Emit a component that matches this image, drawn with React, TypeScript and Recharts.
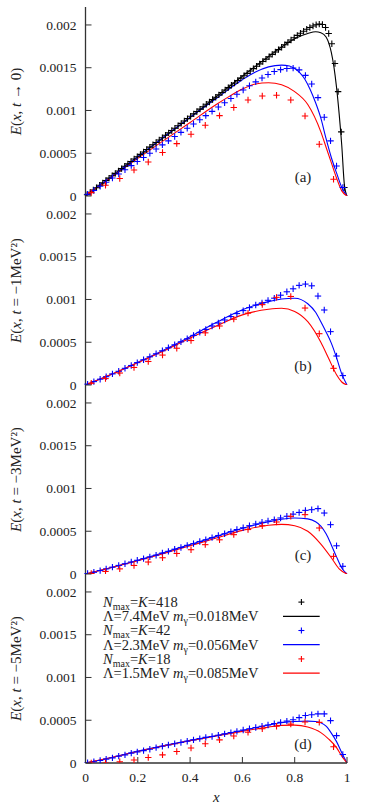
import React from "react"
import { ComposedChart, Line, Scatter, XAxis, YAxis, Legend } from "recharts"

// all E values below are read in units of 10^-3
const UNIT = 1e-3

const X_TICKS = [0, 0.2, 0.4, 0.6, 0.8, 1]
const Y_TICKS = [0, 0.0005, 0.001, 0.0015, 0.002]
const Y_MAX = 0.00221

// x positions of the discrete points
const BLACK_X = [
  0.006, 0.018, 0.03, 0.042, 0.054, 0.066, 0.078, 0.09, 0.102, 0.114, 0.126, 0.138, 0.15, 0.162, 0.174, 0.186,
  0.198, 0.21, 0.222, 0.234, 0.246, 0.258, 0.27, 0.282, 0.294, 0.306, 0.318, 0.33, 0.342, 0.354, 0.366, 0.378,
  0.39, 0.402, 0.414, 0.426, 0.438, 0.45, 0.462, 0.474, 0.486, 0.498, 0.51, 0.522, 0.534, 0.546, 0.558, 0.57,
  0.582, 0.594, 0.606, 0.618, 0.63, 0.642, 0.654, 0.666, 0.678, 0.69, 0.702, 0.714, 0.726, 0.738, 0.75, 0.762,
  0.774, 0.786, 0.798, 0.81, 0.822, 0.834, 0.846, 0.858, 0.87, 0.882, 0.894, 0.906, 0.918, 0.93, 0.942, 0.954,
  0.966, 0.978, 0.99,
]
const BLUE_X = [
  0.008, 0.032, 0.056, 0.079, 0.103, 0.127, 0.151, 0.175, 0.198, 0.222, 0.246, 0.27, 0.294, 0.317, 0.341, 0.365,
  0.389, 0.413, 0.437, 0.46, 0.484, 0.508, 0.532, 0.556, 0.579, 0.603, 0.627, 0.651, 0.675, 0.698, 0.722, 0.746,
  0.77, 0.794, 0.817, 0.841, 0.865, 0.889, 0.913, 0.937, 0.96, 0.984,
]
const RED_X = [
  0.022, 0.0765, 0.131, 0.1855, 0.24, 0.2945, 0.349, 0.4035, 0.458, 0.5125, 0.567, 0.6215, 0.676, 0.7305, 0.785,
  0.8395, 0.894, 0.9485,
]

// panel (a): t -> 0
const A_BLACK_PTS = [
  0.014, 0.042, 0.07, 0.097, 0.125, 0.153, 0.181, 0.209, 0.237, 0.264, 0.292, 0.32, 0.348, 0.376, 0.404, 0.432,
  0.459, 0.487, 0.515, 0.543, 0.571, 0.599, 0.626, 0.654, 0.682, 0.71, 0.738, 0.766, 0.793, 0.821, 0.849, 0.877,
  0.905, 0.933, 0.96, 0.988, 1.016, 1.044, 1.072, 1.1, 1.128, 1.155, 1.183, 1.211, 1.239, 1.267, 1.295, 1.322,
  1.35, 1.378, 1.406, 1.434, 1.462, 1.489, 1.517, 1.545, 1.573, 1.601, 1.629, 1.656, 1.684, 1.712, 1.74, 1.768,
  1.796, 1.824, 1.851, 1.878, 1.903, 1.927, 1.95, 1.97, 1.988, 2.002, 2.01, 2.005, 1.97, 1.9, 1.78, 1.55,
  1.22, 0.75, 0.1,
]
const A_BLUE_PTS = [
  0.02, 0.065, 0.114, 0.16, 0.21, 0.258, 0.307, 0.355, 0.403, 0.451, 0.5, 0.549, 0.598, 0.645, 0.695, 0.744,
  0.793, 0.842, 0.891, 0.94, 0.99, 1.04, 1.09, 1.14, 1.19, 1.24, 1.29, 1.335, 1.38, 1.42, 1.455, 1.478,
  1.49, 1.495, 1.475, 1.41, 1.31, 1.15, 0.92, 0.645, 0.35, 0.1,
]
const A_RED_PTS = [
  0.04, 0.125, 0.204, 0.304, 0.398, 0.508, 0.613, 0.722, 0.827, 0.94, 1.034, 1.123, 1.17, 1.178, 1.123, 0.936,
  0.605, 0.195,
]
const A_BLACK_LINE_X = [0, 0.1, 0.2, 0.3, 0.4, 0.5, 0.6, 0.7, 0.8, 0.85, 0.88, 0.9, 0.92, 0.94, 0.95, 0.96, 0.97, 0.98, 0.99, 1]
const A_BLACK_LINE = [0, 0.23, 0.46, 0.69, 0.92, 1.16, 1.4, 1.63, 1.84, 1.9, 1.92, 1.91, 1.86, 1.68, 1.51, 1.27, 0.96, 0.59, 0.13, 0]
const A_BLUE_LINE_X = [0, 0.1, 0.2, 0.3, 0.4, 0.5, 0.6, 0.65, 0.7, 0.75, 0.78, 0.8, 0.82, 0.84, 0.86, 0.88, 0.9, 0.92, 0.94, 0.96, 0.98, 1]
const A_BLUE_LINE = [0, 0.23, 0.46, 0.69, 0.92, 1.14, 1.36, 1.45, 1.51, 1.53, 1.52, 1.49, 1.44, 1.36, 1.24, 1.09, 0.91, 0.67, 0.45, 0.27, 0.1, 0]
const A_RED_LINE_X = [0, 0.1, 0.2, 0.3, 0.4, 0.5, 0.55, 0.6, 0.65, 0.7, 0.75, 0.8, 0.85, 0.9, 0.92, 0.94, 0.96, 0.98, 1]
const A_RED_LINE = [0, 0.22, 0.44, 0.65, 0.86, 1.07, 1.165, 1.25, 1.31, 1.325, 1.3, 1.22, 1.07, 0.75, 0.57, 0.39, 0.21, 0.06, 0]

// panel (b): t = -1 MeV^2
const B_BLUE_PTS = [
  0.01, 0.04, 0.068, 0.097, 0.13, 0.16, 0.195, 0.228, 0.262, 0.295, 0.33, 0.365, 0.4, 0.435, 0.47, 0.505,
  0.54, 0.58, 0.615, 0.65, 0.69, 0.725, 0.76, 0.8, 0.835, 0.87, 0.905, 0.935, 0.96, 0.99, 1.015, 1.05,
  1.09, 1.125, 1.165, 1.18, 1.16, 1.04, 0.877, 0.624, 0.339, 0.11,
]
const B_RED_PTS = [
  0.02, 0.075, 0.14, 0.205, 0.275, 0.35, 0.43, 0.52, 0.61, 0.69, 0.77, 0.84, 0.94, 1.025, 1.035, 0.9, 0.6, 0.195,
]
const B_BLUE_LINE_X = [0, 0.1, 0.2, 0.3, 0.4, 0.5, 0.6, 0.7, 0.75, 0.8, 0.85, 0.88, 0.9, 0.92, 0.94, 0.96, 0.98, 1]
const B_BLUE_LINE = [0, 0.125, 0.265, 0.41, 0.565, 0.73, 0.88, 0.975, 1.005, 1.015, 0.95, 0.85, 0.74, 0.62, 0.49, 0.32, 0.13, 0]
const B_RED_LINE_X = [0, 0.1, 0.2, 0.3, 0.4, 0.5, 0.6, 0.7, 0.75, 0.8, 0.85, 0.9, 0.93, 0.96, 0.98, 1]
const B_RED_LINE = [0, 0.125, 0.26, 0.4, 0.55, 0.69, 0.82, 0.885, 0.897, 0.86, 0.74, 0.5, 0.31, 0.12, 0.035, 0]

// panel (c): t = -3 MeV^2
const C_BLUE_PTS = [
  0.005, 0.02, 0.04, 0.06, 0.08, 0.1, 0.12, 0.14, 0.16, 0.18, 0.2, 0.22, 0.245, 0.265, 0.29, 0.31,
  0.335, 0.355, 0.38, 0.4, 0.425, 0.45, 0.47, 0.495, 0.52, 0.54, 0.565, 0.585, 0.605, 0.62, 0.635, 0.655,
  0.675, 0.7, 0.72, 0.744, 0.752, 0.764, 0.713, 0.577, 0.33, 0.09,
]
const C_RED_PTS = [
  0.005, 0.03, 0.06, 0.1, 0.14, 0.19, 0.24, 0.284, 0.343, 0.4, 0.46, 0.52, 0.565, 0.608, 0.674, 0.694, 0.538, 0.206,
]
const C_BLUE_LINE_X = [0, 0.1, 0.2, 0.3, 0.4, 0.5, 0.6, 0.7, 0.75, 0.8, 0.85, 0.88, 0.9, 0.92, 0.94, 0.96, 0.98, 1]
const C_BLUE_LINE = [0, 0.075, 0.16, 0.25, 0.345, 0.44, 0.535, 0.61, 0.64, 0.655, 0.645, 0.61, 0.56, 0.47, 0.34, 0.2, 0.07, 0]
const C_RED_LINE_X = [0, 0.1, 0.2, 0.3, 0.4, 0.5, 0.6, 0.7, 0.75, 0.8, 0.85, 0.9, 0.94, 0.97, 1]
const C_RED_LINE = [0, 0.075, 0.155, 0.24, 0.33, 0.42, 0.51, 0.57, 0.58, 0.565, 0.5, 0.35, 0.19, 0.06, 0]

// panel (d): t = -5 MeV^2
const D_BLUE_PTS = [
  0.003, 0.015, 0.03, 0.045, 0.06, 0.08, 0.095, 0.115, 0.13, 0.145, 0.16, 0.18, 0.195, 0.21, 0.225, 0.24,
  0.255, 0.27, 0.285, 0.3, 0.31, 0.325, 0.34, 0.355, 0.37, 0.385, 0.4, 0.415, 0.43, 0.445, 0.46, 0.475,
  0.49, 0.505, 0.53, 0.555, 0.565, 0.575, 0.575, 0.495, 0.32, 0.1,
]
const D_RED_PTS = [
  0, 0, 0.015, 0.035, 0.065, 0.095, 0.135, 0.175, 0.225, 0.27, 0.315, 0.36, 0.4, 0.43, 0.455, 0.48, 0.475, 0.19,
]
const D_BLUE_LINE_X = [0, 0.1, 0.2, 0.3, 0.4, 0.5, 0.6, 0.7, 0.75, 0.8, 0.85, 0.88, 0.9, 0.92, 0.94, 0.96, 0.98, 1]
const D_BLUE_LINE = [0, 0.065, 0.14, 0.205, 0.265, 0.32, 0.38, 0.445, 0.47, 0.485, 0.49, 0.485, 0.47, 0.43, 0.35, 0.25, 0.12, 0]
const D_RED_LINE_X = [0, 0.1, 0.2, 0.3, 0.4, 0.5, 0.6, 0.7, 0.75, 0.8, 0.85, 0.9, 0.93, 0.96, 0.98, 1]
const D_RED_LINE = [0, 0.065, 0.135, 0.2, 0.26, 0.315, 0.37, 0.42, 0.44, 0.443, 0.42, 0.355, 0.28, 0.18, 0.08, 0]

// legend
const LEGEND_N = ["418", "42", "18"]
const LEGEND_LAMBDA = ["7.4", "2.3", "1.5"]
const LEGEND_MGAMMA = ["0.018", "0.056", "0.085"]

const BLACK = "#000000"
const BLUE = "#0000ff"
const RED = "#ff0000"
const COLORS = [BLACK, BLUE, RED]
const INK = "#222"
const FRAME = "#333"
const FONT = "'Liberation Serif', 'DejaVu Serif', serif"

// layout
const W = 373
const PLOT_LEFT = 85.5
const PLOT_RIGHT = 347
const H = 189
const PAD = 12
const TOPS = [7, 196, 385, 574]
const XAXIS_H = 40
const TICK = 6
const ROW_H = 14.2

const pairs = (xs: number[], ys: number[]) => xs.map((x, i) => ({ x, y: ys[i] * UNIT }))

type Series = { kind: "pts" | "line"; color: string; data: { x: number; y: number }[] }
type Panel = { tag: string; tail: string; series: Series[] }

const PANELS: Panel[] = [
  {
    tag: "(a)",
    tail: " → 0",
    series: [
      { kind: "pts", color: BLACK, data: pairs(BLACK_X, A_BLACK_PTS) },
      { kind: "line", color: BLACK, data: pairs(A_BLACK_LINE_X, A_BLACK_LINE) },
      { kind: "pts", color: BLUE, data: pairs(BLUE_X, A_BLUE_PTS) },
      { kind: "line", color: BLUE, data: pairs(A_BLUE_LINE_X, A_BLUE_LINE) },
      { kind: "pts", color: RED, data: pairs(RED_X, A_RED_PTS) },
      { kind: "line", color: RED, data: pairs(A_RED_LINE_X, A_RED_LINE) },
    ],
  },
  {
    tag: "(b)",
    tail: " = −1MeV²",
    series: [
      { kind: "pts", color: BLUE, data: pairs(BLUE_X, B_BLUE_PTS) },
      { kind: "line", color: BLUE, data: pairs(B_BLUE_LINE_X, B_BLUE_LINE) },
      { kind: "pts", color: RED, data: pairs(RED_X, B_RED_PTS) },
      { kind: "line", color: RED, data: pairs(B_RED_LINE_X, B_RED_LINE) },
    ],
  },
  {
    tag: "(c)",
    tail: " = −3MeV²",
    series: [
      { kind: "pts", color: BLUE, data: pairs(BLUE_X, C_BLUE_PTS) },
      { kind: "line", color: BLUE, data: pairs(C_BLUE_LINE_X, C_BLUE_LINE) },
      { kind: "pts", color: RED, data: pairs(RED_X, C_RED_PTS) },
      { kind: "line", color: RED, data: pairs(C_RED_LINE_X, C_RED_LINE) },
    ],
  },
  {
    tag: "(d)",
    tail: " = −5MeV²",
    series: [
      { kind: "pts", color: BLUE, data: pairs(BLUE_X, D_BLUE_PTS) },
      { kind: "line", color: BLUE, data: pairs(D_BLUE_LINE_X, D_BLUE_LINE) },
      { kind: "pts", color: RED, data: pairs(RED_X, D_RED_PTS) },
      { kind: "line", color: RED, data: pairs(D_RED_LINE_X, D_RED_LINE) },
    ],
  },
]

const plusShape = (color: string, s = 3.2) => (props: any) => {
  const { cx, cy } = props
  if (cx == null || cy == null) return <g />
  return (
    <g stroke={color} strokeWidth={1.1}>
      <line x1={cx - s} x2={cx + s} y1={cy} y2={cy} />
      <line x1={cx} x2={cx} y1={cy - s} y2={cy + s} />
    </g>
  )
}

const LeftTick = (p: any) => (
  <g>
    <line x1={p.x} x2={p.x + TICK} y1={p.y} y2={p.y} stroke={FRAME} strokeWidth={1} />
    <text x={p.x - 9} y={p.y} dy={4.6} textAnchor="end" fontFamily={FONT} fontSize={13.5} fill={INK}>
      {String(p.payload.value)}
    </text>
  </g>
)

const RightTick = (p: any) => (
  <line x1={p.x - TICK} x2={p.x} y1={p.y} y2={p.y} stroke={FRAME} strokeWidth={1} />
)

const TopTick = (p: any) => (
  <line x1={p.x} x2={p.x} y1={p.y} y2={p.y + TICK} stroke={FRAME} strokeWidth={1} />
)

const BottomTick = (p: any) => (
  <line x1={p.x} x2={p.x} y1={p.y - TICK} y2={p.y} stroke={FRAME} strokeWidth={1} />
)

const BottomTickLabeled = (p: any) => (
  <g>
    <line x1={p.x} x2={p.x} y1={p.y - TICK} y2={p.y} stroke={FRAME} strokeWidth={1} />
    <text x={p.x} y={p.y + 18.5} textAnchor="middle" fontFamily={FONT} fontSize={13.5} fill={INK}>
      {String(p.payload.value)}
    </text>
  </g>
)

const YLabel = ({ tail }: { tail: string }) => {
  const cx = 15.5
  const cy = PAD + H / 2
  return (
    <text
      x={cx}
      y={cy}
      transform={`rotate(-90 ${cx} ${cy})`}
      textAnchor="middle"
      dominantBaseline="central"
      fontFamily={FONT}
      fontSize={15}
      fill={INK}
    >
      <tspan fontStyle="italic">E</tspan>(<tspan fontStyle="italic">x</tspan>, <tspan fontStyle="italic">t</tspan>
      {tail})
    </text>
  )
}

const XLabel = () => (
  <text
    x={(PLOT_LEFT + PLOT_RIGHT) / 2}
    y={PAD + H + 39}
    textAnchor="middle"
    fontFamily={FONT}
    fontSize={15}
    fontStyle="italic"
    fill={INK}
  >
    x
  </text>
)

// legend rows drawn as one svg text per row
const LegendBox = () => {
  const base = (row: number) => ROW_H * row + ROW_H / 2 + 4.8
  return (
    <svg width={240} height={ROW_H * 6 + 4} style={{ display: "block", overflow: "visible" }}>
      <g fontFamily={FONT} fontSize={14.5} fill={INK}>
        {LEGEND_N.map((n, i) => (
          <React.Fragment key={n}>
            <text x={0} y={base(2 * i)}>
              <tspan fontStyle="italic">N</tspan>
              <tspan fontSize={10} dy={3}>
                max
              </tspan>
              <tspan dy={-3}>=</tspan>
              <tspan fontStyle="italic">K</tspan>
              <tspan>={n}</tspan>
            </text>
            <text x={0} y={base(2 * i + 1)}>
              <tspan>Λ={LEGEND_LAMBDA[i]}MeV </tspan>
              <tspan fontStyle="italic">m</tspan>
              <tspan fontSize={10} dy={3}>
                γ
              </tspan>
              <tspan dy={-3}>={LEGEND_MGAMMA[i]}MeV</tspan>
            </text>
          </React.Fragment>
        ))}
      </g>
      {COLORS.map((c, i) => (
        <g key={c}>
          {plusShape(c, 3)({ cx: 198.4, cy: ROW_H * (2 * i) + ROW_H / 2 })}
          <line
            x1={180}
            x2={216.7}
            y1={ROW_H * (2 * i + 1) + ROW_H / 2}
            y2={ROW_H * (2 * i + 1) + ROW_H / 2}
            stroke={c}
            strokeWidth={1.2}
          />
        </g>
      ))}
    </svg>
  )
}

const PanelChart = ({ panel, index }: { panel: Panel; index: number }) => {
  const last = index === PANELS.length - 1
  const height = last ? PAD + H + XAXIS_H + 1 : H + 2 * PAD
  return (
    <div style={{ position: "absolute", left: 0, top: TOPS[index] - PAD }}>
      <ComposedChart
        width={W}
        height={height}
        margin={{ top: PAD, right: W - PLOT_RIGHT, bottom: last ? 1 : PAD, left: 0 }}
      >
        <XAxis
          type="number"
          dataKey="x"
          domain={[0, 1]}
          ticks={X_TICKS}
          height={last ? XAXIS_H : 0}
          tickSize={0}
          tickMargin={0}
          axisLine={{ stroke: FRAME, strokeWidth: 1.3 }}
          tickLine={false}
          tick={last ? BottomTickLabeled : BottomTick}
          interval={0}
          label={last ? <XLabel /> : undefined}
        />
        <XAxis
          xAxisId="top"
          orientation="top"
          type="number"
          dataKey="x"
          domain={[0, 1]}
          ticks={X_TICKS}
          height={0}
          tickSize={0}
          tickMargin={0}
          axisLine={{ stroke: FRAME, strokeWidth: 1.3 }}
          tickLine={false}
          tick={TopTick}
          interval={0}
        />
        <YAxis
          type="number"
          dataKey="y"
          domain={[0, Y_MAX]}
          allowDataOverflow
          ticks={Y_TICKS}
          width={PLOT_LEFT}
          tickSize={0}
          tickMargin={0}
          axisLine={{ stroke: FRAME, strokeWidth: 1.3 }}
          tickLine={false}
          tick={LeftTick}
          interval={0}
          label={<YLabel tail={panel.tail} />}
        />
        <YAxis
          yAxisId="right"
          orientation="right"
          type="number"
          dataKey="y"
          domain={[0, Y_MAX]}
          allowDataOverflow
          ticks={Y_TICKS}
          width={0}
          tickSize={0}
          tickMargin={0}
          axisLine={{ stroke: FRAME, strokeWidth: 1.3 }}
          tickLine={false}
          tick={RightTick}
          interval={0}
        />
        {panel.series.map((s, i) =>
          s.kind === "pts" ? (
            <Scatter
              key={i}
              data={s.data}
              dataKey="y"
              shape={plusShape(s.color)}
              legendType="none"
              isAnimationActive={false}
            />
          ) : (
            <Line
              key={i}
              data={s.data}
              dataKey="y"
              type="monotone"
              stroke={s.color}
              strokeWidth={1.1}
              dot={false}
              activeDot={false}
              legendType="none"
              isAnimationActive={false}
            />
          ),
        )}
        {last && (
          <Legend
            layout="vertical"
            align="center"
            verticalAlign="middle"
            content={() => <LegendBox />}
            wrapperStyle={{ left: 103.3, top: 20.6 + PAD, width: 240 }}
          />
        )}
      </ComposedChart>
      <div
        style={{
          position: "absolute",
          left: 288,
          width: 30,
          top: PAD + H - 28.5,
          lineHeight: "18px",
          textAlign: "center",
          fontFamily: FONT,
          fontSize: 15,
          color: INK,
        }}
      >
        {panel.tag}
      </div>
    </div>
  )
}

export default function App() {
  return (
    <div style={{ position: "absolute", left: 0, top: 0, width: W, height: 804, background: "#fff" }}>
      {PANELS.map((p, i) => (
        <PanelChart key={p.tag} panel={p} index={i} />
      ))}
    </div>
  )
}
